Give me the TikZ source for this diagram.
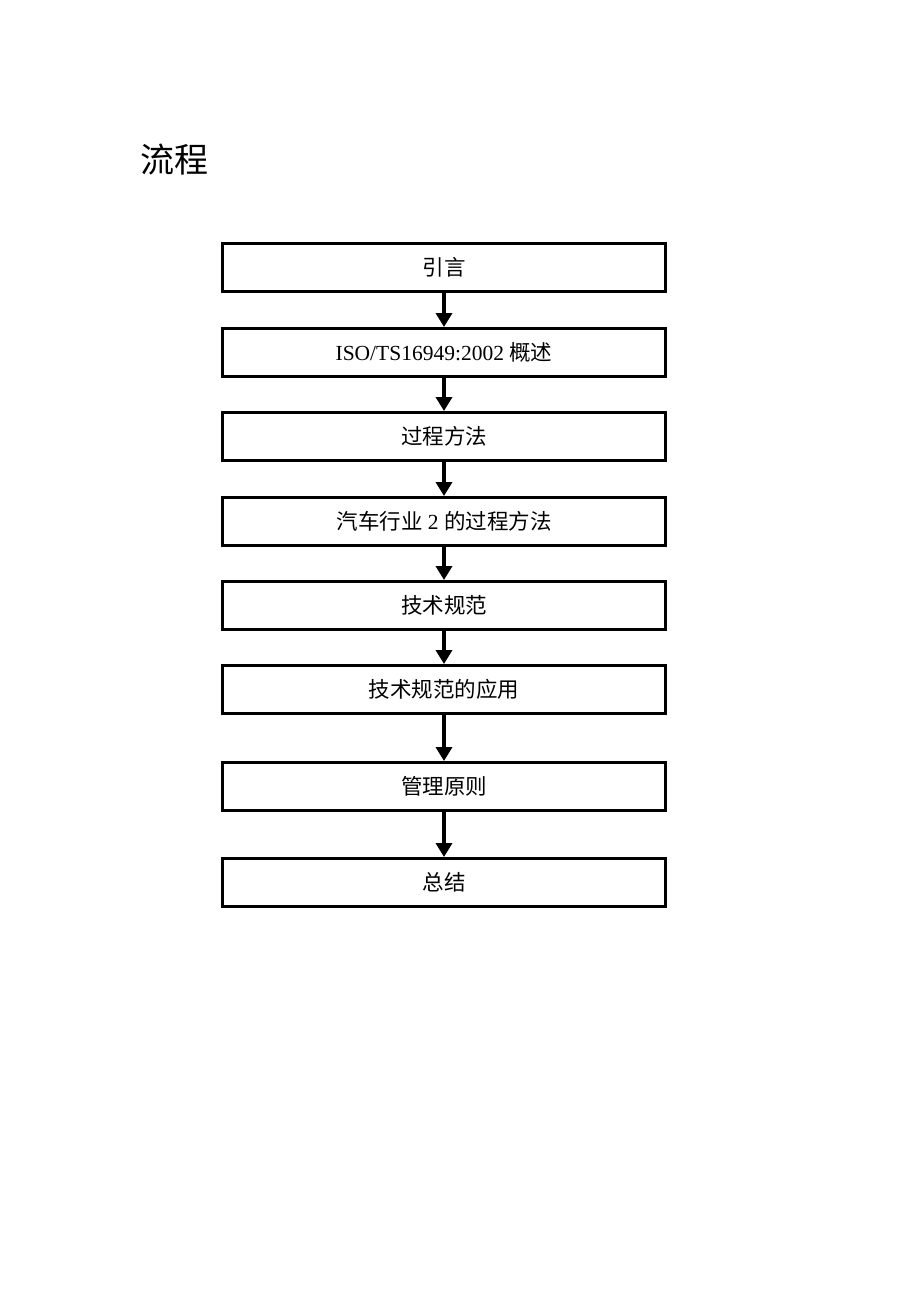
\documentclass[tikz,border=0pt]{standalone}
\usepackage{fontspec}
\setmainfont{Liberation Serif}
\newfontfamily\cjk{Noto Sans CJK SC}
\usetikzlibrary{positioning,arrows.meta}
\tikzstyle{stepbox}=[draw, line width=3pt, minimum width=443pt, minimum height=48pt, inner sep=0pt, font=\fontsize{21.5pt}{24pt}\selectfont]
\tikzstyle{line}=[-{Triangle[width=16pt,length=14pt]}, line width=4pt]

\begin{document}
\begin{tikzpicture}[x=1pt, y=-1pt]
            \useasboundingbox (0,0) rectangle (920,1302);
            \node[anchor=west, inner sep=0pt, font=\cjk\fontsize{34pt}{38pt}\selectfont] (title) at (140,160) {流程};

            \node[stepbox] (s1) at (444,267.5) {\cjk 引言};
            \node[stepbox] (s2) at (444,352.5) {ISO/TS16949:2002 {\cjk 概述}};
            \node[stepbox] (s3) at (444,436.5) {\cjk 过程方法};
            \node[stepbox] (s4) at (444,521.5) {{\cjk 汽车行业} 2 {\cjk 的过程方法}};
            \node[stepbox] (s5) at (444,605.5) {\cjk 技术规范};
            \node[stepbox] (s6) at (444,689.5) {\cjk 技术规范的应用};
            \node[stepbox] (s7) at (444,786.5) {\cjk 管理原则};
            \node[stepbox] (s8) at (444,882.5) {\cjk 总结};

            \draw[line] (s1) -- (s2);
            \draw[line] (s2) -- (s3);
            \draw[line] (s3) -- (s4);
            \draw[line] (s4) -- (s5);
            \draw[line] (s5) -- (s6);
            \draw[line] (s6) -- (s7);
            \draw[line] (s7) -- (s8);
        \end{tikzpicture}
\end{document}
